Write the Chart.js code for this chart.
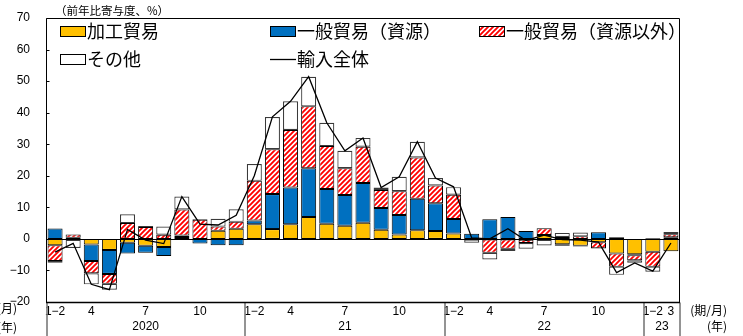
<!DOCTYPE html>
<html>
<head>
<meta charset="utf-8">
<script src="https://cdn.jsdelivr.net/npm/chart.js@4/dist/chart.umd.min.js"></script>
<style>
  html, body { margin: 0; padding: 0; background: #fff; }
  #wrap { width: 743px; height: 336px; }
</style>
</head>
<body>
<div id="wrap"><canvas id="c" width="743" height="336"></canvas></div>
<script>
// Months, 2020/1-2 through 2023/3 (Jan and Feb combined)
const categories = [
  '2020/1-2', '2020/3', '2020/4', '2020/5', '2020/6', '2020/7', '2020/8', '2020/9', '2020/10', '2020/11', '2020/12',
  '2021/1-2', '2021/3', '2021/4', '2021/5', '2021/6', '2021/7', '2021/8', '2021/9', '2021/10', '2021/11', '2021/12',
  '2022/1-2', '2022/3', '2022/4', '2022/5', '2022/6', '2022/7', '2022/8', '2022/9', '2022/10', '2022/11', '2022/12',
  '2023/1-2', '2023/3'
];

// Month labels shown under the axis
const tickLabels = [
  '1−2', '', '4', '', '', '7', '', '', '10', '', '',
  '1−2', '', '4', '', '', '7', '', '', '10', '', '',
  '1−2', '', '4', '', '', '7', '', '', '10', '', '',
  '1−2', '3'
];

// Year groups: label, first and last category index
const yearLabels = ['2020', '21', '22', '23'];
const yearFirst = [0, 11, 22, 33];
const yearLast = [10, 21, 32, 34];

// Contributions to y/y import growth (% points)
const processing = [-2.0, -0.3, -1.8, -3.5, -1.2, -2.2, -2.6, 0.6, 0, 2.6, 3.2,
  4.6, 3.1, 4.6, 6.9, 4.8, 4.2, 5.1, 2.9, 1.4, 2.7, 2.5,
  1.7, -0.2, -0.2, -0.2, -0.3, 1.2, -1.7, -2.2, -1.1, -4.6, -4.9,
  -4.1, -3.9];
const resources = [3.3, 0.4, -5.2, -7.6, -3.4, -2.2, -2.8, 0.5, -1.5, -2.0, -2.0,
  1.2, 11.1, 11.7, 15.5, 11.0, 9.7, 12.6, 6.9, 6.2, 10.0, 8.8,
  4.6, 1.6, 6.2, 6.9, 2.5, -0.3, -0.5, -0.2, 2.1, 0.5, -0.3,
  0.2, 0.5];
const nonResources = [-5.0, 1.0, -3.9, -3.1, 5.0, 3.8, 1.3, 8.2, 6.1, 1.3, 2.2,
  12.6, 14.2, 18.2, 19.6, 13.6, 8.5, 11.5, 5.7, 7.5, 13.1, 5.6,
  7.7, null, -4.2, -2.9, -1.0, 2.2, 0.6, 0.8, -1.9, -4.2, -1.6,
  -4.7, 1.0];
const others = [-0.6, -2.6, -3.5, -1.9, 2.8, 0.3, 2.6, 4.1, 0.2, 2.5, 4.0,
  5.3, 10.2, 9.1, 9.4, 7.4, 5.5, 2.8, 0.8, 4.6, 5.0, 2.4,
  2.4, -1.0, -2.1, -0.7, -1.8, -1.8, 1.3, 1.2, -0.1, -2.6, -0.8,
  -1.6, 0.7];
const totalImports = [-4.2, -1.4, -14.4, -16.1, 3.0, -0.4, -1.5, 13.4, 4.7, 4.4, 7.5,
  20.0, 38.7, 43.6, 51.4, 36.8, 27.9, 32.0, 16.3, 19.7, 30.8, 19.3,
  16.5, 0.3, 0.0, 3.2, -0.5, 1.2, -0.2, -0.4, -1.0, -10.7, -7.6,
  -10.2, -1.3];

const JP = '"Noto Sans CJK JP", "Noto Sans", sans-serif';
const NUM = '"Liberation Sans", Arial, sans-serif';

// Red/white diagonal hatching
function makeHatch() {
  const s = 5;
  const c = document.createElement('canvas');
  c.width = s; c.height = s;
  const g = c.getContext('2d');
  g.fillStyle = '#ffffff';
  g.fillRect(0, 0, s, s);
  g.strokeStyle = '#ff0000';
  g.lineWidth = 1.9;
  g.beginPath();
  g.moveTo(-1, s + 1); g.lineTo(s + 1, -1);
  g.moveTo(-1, 1); g.lineTo(1, -1);
  g.moveTo(s - 1, s + 1); g.lineTo(s + 1, s - 1);
  g.stroke();
  return g.createPattern(c, 'repeat');
}
const hatch = makeHatch();

// Frame, separators, year labels, units and legend
const decorations = {
  id: 'decorations',
  afterDatasetsDraw(chart) {
    const { ctx, chartArea: a, scales: { y } } = chart;
    const y0 = Math.round(y.getPixelForValue(0)) + 0.5;
    ctx.save();
    ctx.strokeStyle = '#000';
    ctx.lineWidth = 1;
    ctx.beginPath();
    ctx.moveTo(a.left, y0); ctx.lineTo(a.right, y0);
    ctx.stroke();
    ctx.restore();
  },
  afterDraw(chart) {
    const { ctx, chartArea: a, scales: { x, y } } = chart;
    ctx.save();
    const L = Math.round(a.left) + 0.5, R = Math.round(a.right) - 0.5;
    const T = Math.round(a.top) + 0.5, B = Math.round(a.bottom) + 0.5;
    const H = chart.height;

    // extension lines below the plot (year separators)
    ctx.strokeStyle = '#7a7a7a';
    ctx.lineWidth = 1.6;
    const half = (x.getPixelForValue(1) - x.getPixelForValue(0)) / 2;
    const seps = [a.left + 0.5];
    for (let i = 1; i < yearFirst.length; i++) seps.push(x.getPixelForValue(yearFirst[i]) - half);
    seps.push(a.right - 0.5);
    ctx.beginPath();
    seps.forEach(px => { ctx.moveTo(Math.round(px), B); ctx.lineTo(Math.round(px), H); });
    ctx.stroke();

    // plot frame
    ctx.strokeStyle = '#000';
    ctx.lineWidth = 1;
    ctx.beginPath();
    ctx.moveTo(L, B); ctx.lineTo(L, T); ctx.lineTo(R, T); ctx.lineTo(R, B);
    ctx.stroke();
    ctx.lineWidth = 1.4;
    ctx.beginPath();
    ctx.moveTo(a.left, B); ctx.lineTo(a.right, B);
    ctx.stroke();

    // inward tick marks on the value axis
    ctx.lineWidth = 1;
    ctx.beginPath();
    y.ticks.forEach(t => {
      const py = Math.round(y.getPixelForValue(t.value)) + 0.5;
      ctx.moveTo(L, py); ctx.lineTo(L + 3, py);
    });
    ctx.stroke();

    // year labels
    ctx.fillStyle = '#000';
    ctx.font = '12px ' + NUM;
    ctx.textAlign = 'center';
    ctx.textBaseline = 'middle';
    yearLabels.forEach((lab, i) => {
      const x1 = x.getPixelForValue(yearFirst[i]) - half;
      const x2 = x.getPixelForValue(yearLast[i]) + half;
      ctx.fillText(lab, (x1 + x2) / 2, 327);
    });

    // unit labels
    ctx.font = '12px ' + JP;
    ctx.textAlign = 'right';
    ctx.fillText('(期/月)', 727, 310);
    ctx.fillText('(年)', 727, 326);
    ctx.fillText('(月)', 17, 308);
    ctx.fillText('(年)', 17, 327);

    ctx.textAlign = 'left';
    ctx.font = '11.5px ' + JP;
    ctx.fillText('（前年比寄与度、%）', 55, 11);

    // legend
    const ds = chart.data.datasets;
    const slots = [[60, 31], [270, 31], [479, 31], [60, 59], [270, 59]];
    ctx.font = '18px ' + JP;
    ds.forEach((d, i) => {
      const [sx, sy] = slots[i];
      if (d.type === 'line') {
        ctx.strokeStyle = '#000';
        ctx.lineWidth = 1.3;
        ctx.beginPath();
        ctx.moveTo(sx, sy + 0.5); ctx.lineTo(sx + 26, sy + 0.5);
        ctx.stroke();
      } else {
        ctx.fillStyle = d.backgroundColor;
        ctx.fillRect(sx, sy - 5, 25, 10);
        ctx.strokeStyle = '#000';
        ctx.lineWidth = 1;
        ctx.strokeRect(sx + 0.5, sy - 4.5, 25, 10);
      }
      ctx.fillStyle = '#000';
      ctx.fillText(d.label, sx + 27, sy);
    });
    ctx.restore();
  }
};

new Chart(document.getElementById('c'), {
  data: {
    labels: categories,
    datasets: [
      { type: 'bar', label: '加工貿易', data: processing, backgroundColor: '#FFC000',
        borderColor: '#000', borderWidth: 1, borderSkipped: false, stack: 'parts', order: 1 },
      { type: 'bar', label: '一般貿易（資源）', data: resources, backgroundColor: '#0070C0',
        borderColor: '#000', borderWidth: 1, borderSkipped: false, stack: 'parts', order: 1 },
      { type: 'bar', label: '一般貿易（資源以外）', data: nonResources, backgroundColor: hatch,
        borderColor: '#000', borderWidth: 1, borderSkipped: false, stack: 'parts', order: 1 },
      { type: 'bar', label: 'その他', data: others, backgroundColor: '#ffffff',
        borderColor: '#3a3a3a', borderWidth: 1.2, borderSkipped: false, stack: 'parts', order: 1 },
      { type: 'line', label: '輸入全体', data: totalImports, borderColor: '#000', borderWidth: 1.3,
        pointRadius: 0, tension: 0, fill: false, stack: 'total', order: 0 }
    ]
  },
  options: {
    responsive: false,
    animation: false,
    devicePixelRatio: 1,
    layout: { padding: { top: 18, right: 63, bottom: 0, left: 0 } },
    plugins: { legend: { display: false }, tooltip: { enabled: false } },
    datasets: { bar: { categoryPercentage: 1.0, barPercentage: 0.83 } },
    scales: {
      x: {
        stacked: true,
        grid: { display: false, drawTicks: false },
        border: { display: false },
        ticks: {
          autoSkip: false, maxRotation: 0, minRotation: 0, padding: 2,
          color: '#000', font: { size: 12, family: NUM },
          callback: (v, i) => tickLabels[i]
        },
        afterFit: s => { s.height = 34; s.paddingLeft = 0; s.paddingRight = 0; }
      },
      y: {
        stacked: true,
        min: -20, max: 70,
        grid: { display: false, drawTicks: false },
        border: { display: false },
        ticks: {
          stepSize: 10, padding: 16, color: '#000', font: { size: 12, family: NUM },
          callback: v => (v < 0 ? '−' + Math.abs(v) : String(v))
        },
        afterFit: s => { s.width = 46; s.paddingTop = 0; s.paddingBottom = 0; }
      }
    }
  },
  plugins: [decorations]
});
</script>
</body>
</html>
